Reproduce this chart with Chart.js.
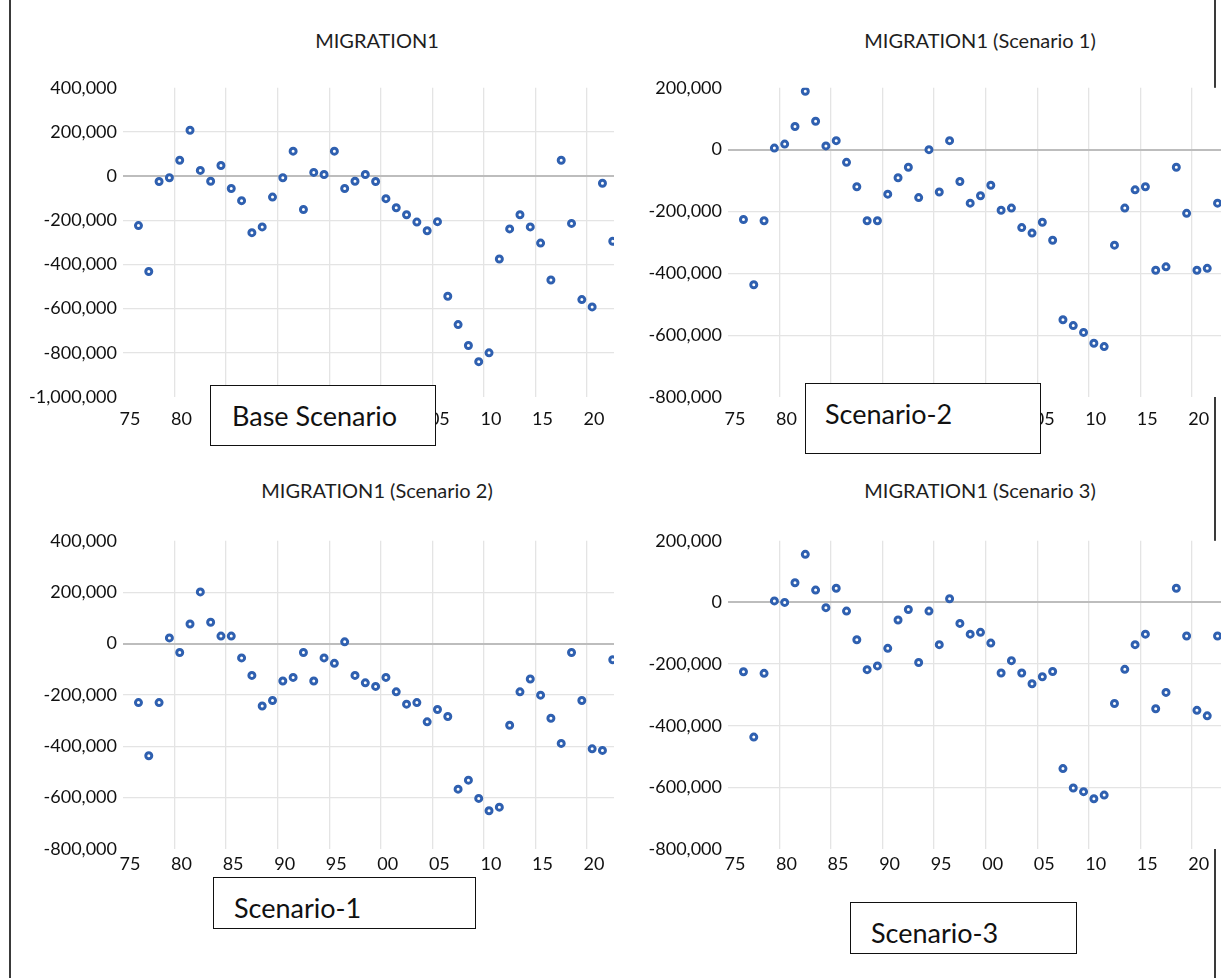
<!DOCTYPE html>
<html>
<head>
<meta charset="utf-8">
<script src="https://cdn.jsdelivr.net/npm/chart.js@4.4.0/dist/chart.umd.min.js"></script>
<style>
  body { margin: 0; width: 1221px; height: 978px; overflow: hidden; background: #fff; position: relative; font-family: Lato, sans-serif; }
  .frame { position: absolute; background: #3a3a3a; }
  canvas { position: absolute; }
  .title { position: absolute; width: 400px; text-align: center; font-size: 20px; color: #1e1e1e; line-height: 24px; }
  .note { position: absolute; box-sizing: border-box; border: 1.5px solid #111; background: #fff; font-size: 27px; line-height: 30px; padding-top: 15px; color: #111; }
</style>
</head>
<body>
<div class="frame" style="left:9px; top:0; width:2px; height:978px;"></div>
<div class="frame" style="left:1214px; top:0; width:2px; height:978px;"></div>

<canvas id="tl" width="609" height="359" style="left:12px; top:71px;"></canvas>
<canvas id="tr" width="623" height="359" style="left:617px; top:71px;"></canvas>
<canvas id="bl" width="609" height="359" style="left:12px; top:524px;"></canvas>
<canvas id="br" width="623" height="359" style="left:617px; top:524px;"></canvas>

<div class="title" style="left:177px; top:28px;">MIGRATION1</div>
<div class="title" style="left:780px; top:28px;">MIGRATION1 (Scenario 1)</div>
<div class="title" style="left:177px; top:478px;">MIGRATION1 (Scenario 2)</div>
<div class="title" style="left:780px; top:478px;">MIGRATION1 (Scenario 3)</div>

<div class="note" style="left:210px; top:385px; width:226px; height:61px; padding-left:21px;">Base Scenario</div>
<div class="note" style="left:805px; top:383px; width:236px; height:71px; padding-left:19px;">Scenario-2</div>
<div class="note" style="left:213px; top:877px; width:263px; height:52px; padding-left:20px;">Scenario-1</div>
<div class="note" style="left:850px; top:902px; width:227px; height:52px; padding-left:20px;">Scenario-3</div>

<script>
// años (fechas a mitad de año en el original)
const years = [1976, 1977, 1978, 1979, 1980, 1981, 1982, 1983, 1984, 1985,
  1986, 1987, 1988, 1989, 1990, 1991, 1992, 1993, 1994, 1995,
  1996, 1997, 1998, 1999, 2000, 2001, 2002, 2003, 2004, 2005,
  2006, 2007, 2008, 2009, 2010, 2011, 2012, 2013, 2014, 2015,
  2016, 2017, 2018, 2019, 2020, 2021, 2022];

const yearTicks = [1975, 1980, 1985, 1990, 1995, 2000, 2005, 2010, 2015, 2020];

// MIGRATION1 - escenario base
const baseScenario = [-224000, -432000, -24000, -7500, 72000, 208000, 26000, -23000, 48000, -56000,
  -111000, -256000, -230000, -95000, -7500, 113000, -151000, 17000, 7500, 113000,
  -56000, -23000, 7500, -24000, -102000, -143000, -175000, -208000, -247000, -206000,
  -544000, -672000, -767000, -840000, -800000, -375000, -239000, -175000, -230000, -303000,
  -470000, 72000, -214000, -559000, -592000, -32000, -295000];

// MIGRATION1 (Scenario 1)
const scenario1 = [-226000, -437000, -230000, 5000, 18000, 75000, 189000, 92000, 12000, 29000,
  -41000, -120000, -230000, -230000, -144000, -91000, -57000, -155000, 0, -137000,
  29000, -103000, -173000, -149000, -115000, -196000, -189000, -252000, -270000, -235000,
  -293000, -550000, -569000, -591000, -626000, -637000, -309000, -189000, -130000, -120000,
  -390000, -379000, -57000, -206000, -390000, -384000, -173000];

// MIGRATION1 (Scenario 2)
const scenario2 = [-230000, -437000, -230000, 22000, -35000, 76000, 201000, 83000, 29000, 29000,
  -56000, -124000, -243000, -222000, -146000, -132000, -35000, -146000, -56000, -77000,
  6500, -124000, -153000, -167000, -132000, -188000, -236000, -230000, -305000, -257000,
  -284000, -567000, -532000, -603000, -651000, -637000, -318000, -188000, -138000, -201000,
  -291000, -389000, -35000, -222000, -410000, -416000, -63000];

// MIGRATION1 (Scenario 3)
const scenario3 = [-225000, -437000, -230000, 5000, 0, 64000, 156000, 40000, -17000, 46000,
  -28000, -121000, -218000, -206000, -149000, -57000, -23000, -195000, -28000, -137000,
  12000, -68000, -103000, -97000, -132000, -229000, -189000, -229000, -264000, -241000,
  -224000, -539000, -602000, -614000, -637000, -625000, -328000, -217000, -137000, -103000,
  -345000, -292000, 46000, -109000, -350000, -368000, -109000];

// fondo blanco solo en el área de trazado
const plotFill = {
  id: 'plotFill',
  beforeDraw(chart) {
    const a = chart.chartArea;
    chart.ctx.save();
    chart.ctx.fillStyle = '#fff';
    chart.ctx.fillRect(a.left, a.top, a.right - a.left, a.bottom - a.top);
    chart.ctx.restore();
  }
};

const tickFont = { family: 'Lato', size: 18 };

function makeChart(id, values, yMin, yMax, xMax, xAxisHeight, labelPad) {
  const ctx = document.getElementById(id).getContext('2d');
  return new Chart(ctx, {
    type: 'scatter',
    data: {
      datasets: [{
        data: years.map((y, i) => ({ x: y + 0.5, y: values[i] })),
        pointStyle: 'circle',
        pointRadius: 3,
        pointBorderWidth: 3,
        borderColor: '#2f60b0',
        backgroundColor: '#ffffff'
      }]
    },
    options: {
      responsive: false,
      animation: false,
      devicePixelRatio: 1,
      layout: { padding: { top: 7, right: 0, left: 0, bottom: 0 } },
      plugins: { legend: { display: false }, tooltip: { enabled: false } },
      scales: {
        x: {
          type: 'linear',
          min: 1975,
          max: xMax,
          afterBuildTicks: s => { s.ticks = yearTicks.map(v => ({ value: v })); },
          afterFit: s => { s.height = xAxisHeight; },
          border: { display: false },
          grid: {
            drawTicks: false,
            color: c => (c.tick && c.tick.value === 1975) ? 'rgba(0,0,0,0)' : '#e4e4e4',
            lineWidth: 1.3
          },
          ticks: {
            padding: labelPad,
            labelOffset: 7,
            maxRotation: 0,
            autoSkip: false,
            font: tickFont,
            color: '#111',
            callback: v => String(v).slice(2)
          }
        },
        y: {
          min: yMin,
          max: yMax,
          afterFit: s => { s.width = 111; },
          border: { display: false },
          grid: {
            drawTicks: false,
            color: c => {
              if (!c.tick) return '#e4e4e4';
              if (c.tick.value === 0) return '#bdbdbd';
              if (c.tick.value === yMin || c.tick.value === yMax) return 'rgba(0,0,0,0)';
              return '#e4e4e4';
            },
            lineWidth: c => (c.tick && c.tick.value === 0) ? 2 : 1.3
          },
          ticks: {
            stepSize: 200000,
            padding: 6,
            font: tickFont,
            color: '#111',
            callback: v => v.toLocaleString('en-US')
          }
        }
      }
    },
    plugins: [plotFill]
  });
}

makeChart('tl', baseScenario, -1000000, 400000, 2022.62, 33, 11);
makeChart('tr', scenario1, -800000, 200000, 2024.0, 33, 11);
makeChart('bl', scenario2, -800000, 400000, 2022.62, 34, 4);
makeChart('br', scenario3, -800000, 200000, 2024.0, 34, 4);
</script>
</body>
</html>
